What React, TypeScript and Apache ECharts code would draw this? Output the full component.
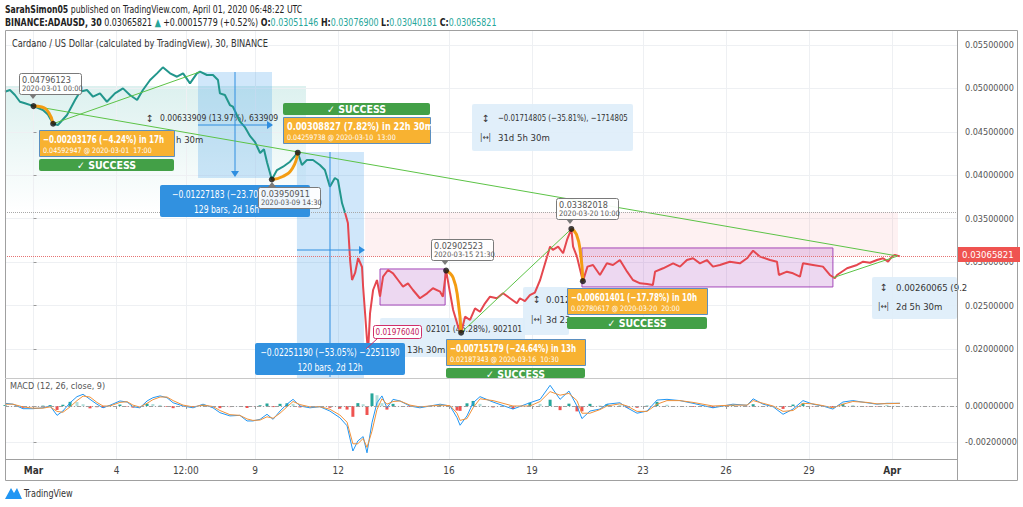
import React, { useEffect, useRef } from "react";
import * as echarts from "echarts";

const NARROW = "'Liberation Sans Narrow', 'DejaVu Sans Condensed', Roboto, sans-serif";

// x unit: days since 2020-03-01 00:00 UTC
const xTickDays = [0, 3, 5.5, 8, 11, 15, 18, 22, 25, 28, 31];
const xTickLabels = ["Mar", "4", "12:00", "9", "12", "16", "19", "23", "26", "29", "Apr"];
const priceTicks = [0.02, 0.025, 0.03, 0.035, 0.04, 0.045, 0.05, 0.055];
const macdTicks = [-0.002, 0];

const tealPrice: [number, number][] = [
  [-1.03, 0.04962], [-0.85, 0.04981], [-0.67, 0.04924], [-0.49, 0.04846], [-0.31, 0.04828], [0, 0.04796],
  [0.34, 0.04751], [0.52, 0.047], [0.708, 0.04593], [0.88, 0.04578], [1.21, 0.04693], [1.5, 0.04866],
  [1.68, 0.04962], [1.93, 0.04981], [2.15, 0.04904], [2.4, 0.04943], [2.65, 0.04846], [2.94, 0.04943],
  [3.23, 0.05], [3.48, 0.04924], [3.74, 0.04866], [3.95, 0.04981], [4.21, 0.05096], [4.46, 0.05173],
  [4.67, 0.05242], [4.93, 0.05173], [5.18, 0.05134], [5.4, 0.05173], [5.65, 0.05058], [5.9, 0.05173],
  [6.01, 0.05192], [6.26, 0.05154], [6.48, 0.05154], [6.66, 0.05096], [6.73, 0.04943], [6.91, 0.04924],
  [7.09, 0.04808], [7.2, 0.04789], [7.45, 0.0462], [7.64, 0.0455], [7.82, 0.0445], [8.0, 0.0438],
  [8.18, 0.04256], [8.32, 0.043], [8.43, 0.0415], [8.604, 0.03951], [8.79, 0.0406], [9.01, 0.04098],
  [9.26, 0.04156], [9.54, 0.0426], [9.69, 0.04118], [9.87, 0.04175], [10.09, 0.04175], [10.34, 0.04118],
  [10.52, 0.0406], [10.7, 0.03868], [10.88, 0.03968], [10.99, 0.03945], [11.14, 0.03677], [11.25, 0.03565],
];

const redPrice: [number, number][] = [
  [11.25, 0.03565], [11.35, 0.0345], [11.43, 0.03024], [11.5, 0.02794], [11.61, 0.02875], [11.72, 0.03047],
  [11.86, 0.02944], [11.9, 0.02714], [11.97, 0.02414], [12.04, 0.02104], [12.08, 0.01976], [12.15, 0.02414],
  [12.26, 0.02679], [12.4, 0.02794], [12.51, 0.02602], [12.62, 0.02832], [12.8, 0.02909], [12.98, 0.02871],
  [13.16, 0.02794], [13.34, 0.02717], [13.52, 0.02756], [13.7, 0.02679], [13.95, 0.02584], [14.21, 0.02641],
  [14.42, 0.02699], [14.68, 0.0266], [14.78, 0.02602], [14.896, 0.02903], [15.04, 0.02641], [15.15, 0.02449],
  [15.33, 0.02257], [15.4375, 0.02187], [15.58, 0.02372], [15.76, 0.02334], [15.94, 0.02468], [16.12, 0.02429],
  [16.3, 0.02526], [16.48, 0.02602], [16.73, 0.02584], [16.95, 0.02641], [17.2, 0.02584], [17.45, 0.02526],
  [17.56, 0.02584], [17.74, 0.0255], [17.92, 0.0262], [18.1, 0.0265], [18.29, 0.02794], [18.47, 0.02986],
  [18.65, 0.03178], [18.75, 0.0314], [18.94, 0.03178], [19.12, 0.03102], [19.26, 0.03255], [19.417, 0.03382],
  [19.48, 0.03178], [19.62, 0.03063], [19.833, 0.02781], [20.0, 0.02948], [20.2, 0.02967], [20.45, 0.02852],
  [20.7, 0.02986], [20.92, 0.02967], [21.17, 0.03024], [21.43, 0.0289], [21.64, 0.02794], [21.9, 0.02756],
  [22.15, 0.02748], [22.36, 0.02737], [22.44, 0.0289], [22.73, 0.02929], [23.09, 0.02986], [23.34, 0.02948],
  [23.59, 0.03024], [23.81, 0.03044], [24.06, 0.02986], [24.31, 0.03024], [24.53, 0.02948], [24.78, 0.02967],
  [25.14, 0.03005], [25.5, 0.02986], [25.76, 0.03044], [25.98, 0.03132], [26.23, 0.03063], [26.59, 0.03024],
  [26.84, 0.03005], [26.91, 0.02852], [27.2, 0.0289], [27.42, 0.02871], [27.67, 0.02832], [27.78, 0.02986],
  [28.14, 0.02967], [28.5, 0.02948], [28.75, 0.02852], [28.93, 0.02814], [29.01, 0.02852], [29.37, 0.02929],
  [29.73, 0.02967], [29.95, 0.03005], [30.2, 0.02993], [30.45, 0.03024], [30.67, 0.03044], [30.85, 0.03005],
  [30.99, 0.03063], [31.1, 0.03082], [31.28, 0.03066],
];

const trendLines: [number, number][][] = [
  [[0, 0.04796], [31.2, 0.0307]],
  [[0.708, 0.04593], [6.01, 0.0519]],
  [[15.4375, 0.02187], [19.417, 0.03382]],
  [[28.86, 0.0282], [31.2, 0.0307]],
];

const swingArcs: [number, number][][] = [
  [[0, 0.04796], [0.3, 0.04785], [0.55, 0.0472], [0.708, 0.04593]],
  [[8.604, 0.03951], [9.0, 0.03985], [9.35, 0.0408], [9.54, 0.0426]],
  [[14.896, 0.02903], [15.15, 0.0282], [15.33, 0.0255], [15.4375, 0.02187]],
  [[19.417, 0.03382], [19.6, 0.0332], [19.75, 0.031], [19.833, 0.02781]],
];

const pivotPoints: [number, number][] = [
  [0, 0.04796], [0.708, 0.04593], [8.604, 0.03951], [9.54, 0.0426],
  [14.896, 0.02903], [15.4375, 0.02187], [19.417, 0.03382], [19.833, 0.02781],
];

// [dayFrom, priceTop, dayTo, priceBottom]
const measureZones: number[][] = [
  [5.94, 0.05188, 8.61, 0.03968],
  [9.51, 0.04268, 11.93, 0.01666],
];
const rangeZones: number[][] = [
  [12.51, 0.02921, 14.86, 0.02506],
  [19.8, 0.03163, 28.86, 0.02714],
];
const riskZone: number[] = [11.97, 0.03577, 31.21, 0.03066];
const guideLevel = 0.03577;
const lastPrice = 0.03065821;

const macdDays = [
  -1.03, -0.74, -0.38, -0.02, 0.34, 0.6, 0.85, 1.06, 1.32, 1.57, 1.79, 2.04, 2.29, 2.51, 2.76, 3.12, 3.38,
  3.59, 3.84, 4.1, 4.31, 4.57, 4.82, 5.04, 5.4, 5.76, 6.12, 6.48, 6.73, 7.09, 7.45, 7.71, 7.92, 8.18, 8.43,
  8.65, 8.9, 9.15, 9.37, 9.62, 9.98, 10.34, 10.7, 11.06, 11.32, 11.53, 11.71, 11.9, 12.04, 12.22, 12.4,
  12.58, 12.76, 12.98, 13.23, 13.59, 13.95, 14.31, 14.68, 15.04, 15.29, 15.4, 15.65, 15.87,
  16.12, 16.59, 17.31, 17.92, 18.29, 18.65, 19.01, 19.33, 19.62, 19.8, 20.09, 20.45, 20.7, 21.17, 21.43,
  21.79, 22.15, 22.51, 22.87, 23.34, 23.81, 24.53, 25.25, 25.76, 25.98, 26.34, 26.7, 27.06, 27.42, 27.78,
  28.14, 28.5, 28.86, 29.22, 29.58, 30.09, 30.45, 30.81, 31.1, 31.28,
];
const macdLine = [
  0.00015, 0.0001, -0.00015, -0.00015, -0.0001, 0, -0.00052, -0.00028, 0.00018, 0.00052, 0.00065, 0.00037,
  0.0001, -0.0001, 0.00004, 0.00028, 0.00022, -0.00004, -0.0001, 0.00028, 0.00046, 0.00056, 0.00046, 0.00018,
  0, -0.0001, 0.0001, -0.0001, -0.00037, -0.00055, -0.00052, -0.00083, -0.00083, -0.00074, -0.00046, -0.00074,
  -0.00028, 0.0001, 0.00037, 0, -0.0001, -0.00004, -0.00028, -0.00065, -0.0011, -0.0025, -0.00194, -0.0017,
  -0.0026, -0.00093, 0.00018, 0.00056, -0.0001, 0.00037, 0.00028, 0, -0.0001, 0, 0.0001, 0, -0.00065,
  -0.00107, -0.00055, 0.00018,
  0.00052, 0.00022, -0.00017, 0.00018, 0.00037, 0.00115, 0.00037, 0.00083, 0, -0.0007, -0.00028, -0.00017,
  0.0001, 0.00018, -0.0001, -0.0004, -0.00028, 0.00033, 0.00037, 0.0003, 0.00015, -0.0001, 0.0001, 0.00004,
  0.0004, 0.0001, -0.00004, -0.00046, -0.00017, 0.0003, 0.0001, 0, -0.00017, 0.00022, 0.0003, 0.00018,
  0.0001, 0.00015, 0.00015, 0.00015,
];
const signalLine = [
  0.0001, 0.0001, -0.00005, -0.00012, -0.00012, -0.00005, -0.0003, -0.00035, -0.00005, 0.0003, 0.00055,
  0.0005, 0.0002, 0, 0, 0.0002, 0.00024, 0.00005, -0.00006, 0.00015, 0.00035, 0.0005, 0.0005, 0.0003,
  0.00005, -0.00005, 0.00005, -0.00003, -0.00025, -0.00048, -0.00052, -0.00072, -0.0008, -0.00078, -0.0006,
  -0.00068, -0.0004, -0.00005, 0.00025, 0.00008, -0.00005, -0.00004, -0.00018, -0.0005, -0.0009, -0.0021,
  -0.0021, -0.0018, -0.0023, -0.0014, -0.0002, 0.0004, 0.0001, 0.00025, 0.00028, 0.00005, -0.00005, 0,
  0.00005, 0.00002, -0.0004, -0.0008, -0.0007, -0.0001,
  0.0004, 0.0003, 0, 0, 0.00025, 0.0008, 0.0006, 0.0007, 0.0003, -0.0004, -0.0004, -0.0002, 0, 0.00012,
  0, -0.0003, -0.0003, 0.0001, 0.0003, 0.0003, 0.0002, 0, 0.00005, 0.00005, 0.0003, 0.00015, 0, -0.0003,
  -0.00025, 0.00015, 0.00012, 0.00002, -0.0001, 0.0001, 0.00025, 0.0002, 0.00012, 0.00013, 0.00014, 0.00015,
];
const histogram = [
  0.00005, 0, -0.0001, -0.00003, 0.00002, 0.00005, -0.00022, 0.00007, 0.00023, 0.00022, 0.0001, -0.00013,
  -0.0001, -0.0001, 0.00004, 0.00008, -0.00002, -0.00009, -0.00004, 0.00013, 0.00011, 0.00006, -0.00004,
  -0.00012, -0.00005, -0.00005, 0.00005, -0.00007, -0.00012, -0.00007, 0, -0.00011, -0.00003, 0.00004,
  0.00014, -0.00006, 0.00012, 0.00015, 0.00012, -0.00008, -0.00005, 0, -0.0001, -0.00015, -0.0002, -0.0006,
  0.00016, 0.0001, -0.0005, 0.0007, 0.0006, 0.00016, -0.0002, 0.00012, 0, -0.00005, -0.00005, 0, 0.00005,
  -0.00002, -0.00025, -0.00027, 0.00015, 0.00028,
  0.00012, -0.00008, -0.00017, 0.00018, 0.00012, 0.00035, -0.00023, 0.00013, -0.0003, -0.0003, 0.00012,
  0.00003, 0.0001, 0.00006, -0.0001, -0.0001, 0.00002, 0.00023, 0.00007, 0, -0.00005, -0.0001, 0.00005,
  -0.00001, 0.0001, -0.00005, -0.00004, -0.00016, 0.00008, 0.00015, -0.00002, -0.00002, -0.00007, 0.00012,
  0.00005, -0.00002, -0.00002, 0.00002, 0.00001, 0,
];

const X_MIN = -1.029;
const X_MAX = 33.34;

function txt(x: number, y: number, text: string, size: number, fill: string, opts: any = {}) {
  return {
    type: "text",
    x,
    y,
    scaleX: opts.sx ?? 1,
    z: opts.z ?? 30,
    silent: true,
    style: {
      text,
      fill,
      fontSize: size,
      fontFamily: NARROW,
      fontWeight: opts.bold ? "bold" : "normal",
      align: opts.align ?? "left",
      verticalAlign: "middle",
      rich: opts.rich,
    },
  };
}
function rect(x: number, y: number, w: number, h: number, fill: string, stroke: string | null, z = 20, r = 0) {
  return {
    type: "rect",
    z,
    silent: true,
    shape: { x, y, width: w, height: h, r },
    style: { fill, stroke: stroke ?? "none", lineWidth: 1 },
  };
}
function line(x1: number, y1: number, x2: number, y2: number, stroke: string, z = 20, w = 1) {
  return {
    type: "line",
    z,
    silent: true,
    shape: { x1, y1, x2, y2 },
    style: { stroke, lineWidth: w },
  };
}
function poly(points: number[][], fill: string, z = 20) {
  return { type: "polygon", z, silent: true, shape: { points }, style: { fill } };
}

function orangeBox(x: number, y: number, w: number, t1: string, t2: string) {
  const sx = t1.includes("−") ? 0.76 : 0.86;
  return [
    rect(x + 0.5, y + 0.5, w, 26, "#f8b231", "#5b8fc0", 22),
    txt(x + 4, y + 9, t1, 10.5, "#ffffff", { bold: true, z: 23, sx }),
    txt(x + 4, y + 20, t2, 7.5, "#ffffff", { z: 23, sx: 0.95 }),
  ];
}
function successBar(x: number, y: number, w: number, h = 12) {
  return [
    rect(x, y, w, h, "#43a047", null, 22, 2),
    txt(x + w / 2, y + 6, "✓ SUCCESS", 10.5, "#ffffff", { bold: true, align: "center", z: 23 }),
  ];
}
function tipBox(x: number, y: number, price: string, date: string, px: number, down: boolean) {
  const w = 62;
  const h = 21;
  const tri = down
    ? [[px - 4, y + h], [px, y + h + 5], [px + 4, y + h]]
    : [[px - 4, y], [px, y - 5], [px + 4, y]];
  return [
    rect(x + 0.5, y + 0.5, w, h, "rgba(255,255,255,0.92)", "#7a7a7a", 24, 2),
    poly(tri, "#7a7a7a", 24),
    txt(x + 3, y + 6.5, price, 9, "#555555", { z: 25 }),
    txt(x + 3, y + 15.5, date, 7.5, "#555555", { z: 25 }),
  ];
}
function paleBox(x: number, y: number, w: number, h: number) {
  return rect(x, y, w, h, "rgba(222,237,250,0.9)", null, 1, 2);
}

function buildGraphics() {
  const g: any[] = [];
  g.push({
    type: "rect",
    z: 0,
    silent: true,
    shape: { x: 6, y: 86, width: 300, height: 126 },
    style: {
      fill: new echarts.graphic.LinearGradient(0, 0, 0, 1, [
        { offset: 0, color: "rgba(38,166,154,0.16)" },
        { offset: 1, color: "rgba(38,166,154,0)" },
      ]),
    },
  });
  // frame
  g.push(rect(5.5, 30.5, 1012, 450, "none", "#a0a0a0", 40));
  g.push(line(957.5, 30, 957.5, 480, "#a0a0a0", 40));
  g.push(line(5, 378.5, 957, 378.5, "#c8c8c8", 40));
  g.push(line(5, 459.5, 957, 459.5, "#a0a0a0", 40));

  // header
  g.push(
    txt(5, 9, "{b|SarahSimon05} published on TradingView.com, April 01, 2020 06:48:22 UTC", 10.5, "#222", {
      sx: 0.82,
      rich: { b: { fontWeight: "bold", fontSize: 10.5, fontFamily: NARROW, fill: "#222" } },
    })
  );
  const gr = { fill: "#26a69a", fontSize: 11, fontFamily: NARROW };
  const bb = { fontWeight: "bold", fontSize: 11, fontFamily: NARROW, fill: "#222" };
  g.push(
    txt(
      5,
      22,
      "{b|BINANCE:ADAUSD, 30} 0.03065821 {g|▲} +0.00015779 (+0.52%) {b|O:}{g|0.03051146} {b|H:}{g|0.03076900} {b|L:}{g|0.03040181} {b|C:}{g|0.03065821}",
      11,
      "#222",
      { sx: 0.8, rich: { b: bb, g: gr } }
    )
  );
  g.push(txt(12, 43, "Cardano / US Dollar (calculated by TradingView), 30, BINANCE", 10, "#333", { sx: 0.92 }));
  g.push(txt(10, 386, "MACD (12, 26, close, 9)", 9, "#555"));

  // pale measurement notes
  g.push(txt(146, 118, "↕", 10, "#333", { z: 3 }));
  g.push(txt(160, 118, "0.00633909 (13.97%), 633909", 9.5, "#333", { z: 3, sx: 0.9 }));
  g.push(txt(176, 139, "h 30m", 9.5, "#333", { z: 3 }));

  g.push(paleBox(472, 104, 161, 47));
  g.push(txt(482, 118, "↕", 10, "#333", { z: 3 }));
  g.push(txt(498, 118, "−0.01714805 (−35.81%), −1714805", 9.5, "#333", { z: 3, sx: 0.82 }));
  g.push(txt(480, 137, "|↔|", 8, "#333", { z: 3 }));
  g.push(txt(498, 137, "31d 5h 30m", 9.5, "#333", { z: 3 }));

  g.push(paleBox(523, 287, 46, 48));
  g.push(txt(533, 299, "↕", 10, "#333", { z: 3 }));
  g.push(txt(546, 299, "0.012", 9.5, "#333", { z: 3 }));
  g.push(txt(531, 319, "|↔|", 8, "#333", { z: 3 }));
  g.push(txt(546, 319, "3d 23", 9.5, "#333", { z: 3 }));

  g.push(paleBox(380, 318, 145, 39));
  g.push(txt(426, 329, "02101 (45.28%), 902101", 9.5, "#333", { z: 3, sx: 0.9 }));
  g.push(txt(407, 349, "13h 30m", 9.5, "#333", { z: 3 }));

  g.push(paleBox(872, 277, 85, 42));
  g.push(txt(880, 287, "↕", 10, "#333", { z: 3 }));
  g.push(txt(896, 287, "0.00260065 (9.2", 9.5, "#333", { z: 3 }));
  g.push(txt(878, 306, "|↔|", 8, "#333", { z: 3 }));
  g.push(txt(896, 306, "2d 5h 30m", 9.5, "#333", { z: 3 }));

  // measure arrows
  const bl = "#2e8ee0";
  g.push(line(235, 72, 235, 176, bl, 6));
  g.push(poly([[231, 171], [235, 177], [239, 171]], bl, 6));
  g.push(line(198, 125, 272, 125, bl, 6));
  g.push(poly([[267, 121], [273, 125], [267, 129]], bl, 6));
  g.push(line(330, 152, 330, 377, bl, 6));
  g.push(line(297, 250, 364, 250, bl, 6));
  g.push(poly([[359, 246], [365, 250], [359, 254]], bl, 6));

  // blue measure labels
  g.push(rect(160, 185, 150, 32, "#3191e0", null, 21, 2));
  g.push(txt(172, 194, "−0.01227183 (−23.70%", 10, "#ffffff", { z: 22, sx: 0.85 }));
  g.push(txt(194, 209, "129 bars, 2d 16h", 10, "#ffffff", { z: 22, sx: 0.85 }));
  g.push(rect(255, 343, 150, 32, "#3191e0", null, 21, 2));
  g.push(txt(330, 352, "−0.02251190 (−53.05%) −2251190", 10, "#ffffff", { z: 22, sx: 0.85, align: "center" }));
  g.push(txt(330, 367, "120 bars, 2d 12h", 10, "#ffffff", { z: 22, sx: 0.85, align: "center" }));

  g.push(...orangeBox(39, 130, 135, "−0.00203176 (−4.24%) in 17h", "0.04592947 @ 2020-03-01  17:00"));
  g.push(...successBar(39, 159, 135));
  g.push(...successBar(283, 103, 147));
  g.push(...orangeBox(283, 117, 147, "0.00308827 (7.82%) in 22h 30m", "0.04259738 @ 2020-03-10  13:00"));
  g.push(...orangeBox(446, 339, 139, "−0.00715179 (−24.64%) in 13h", "0.02187343 @ 2020-03-16  10:30"));
  g.push(...successBar(446, 368, 139, 10));
  g.push(...orangeBox(567, 288, 140, "−0.00601401 (−17.78%) in 10h", "0.02780617 @ 2020-03-20  20:00"));
  g.push(...successBar(567, 317, 140));

  g.push(...tipBox(19, 73, "0.04796123", "2020-03-01 00:00", 33, true));
  g.push(...tipBox(258, 187, "0.03950911", "2020-03-09 14:30", 272, false));
  g.push(...tipBox(431, 239, "0.02902523", "2020-03-15 21:30", 445, true));
  g.push(...tipBox(556, 198, "0.03382018", "2020-03-20 10:00", 570, true));

  // low label
  g.push(line(366, 349, 378, 338, "#d0306a", 24));
  g.push(rect(373.5, 325.5, 48, 13, "#ffffff", "#d0306a", 24, 2));
  g.push(txt(397.5, 332, "0.01976040", 8.5, "#c2185b", { align: "center", z: 25, sx: 0.95 }));

  // last price tag
  g.push(rect(958, 247, 62, 15, "#ef5350", null, 45));
  g.push(txt(962, 254.5, "0.03065821", 9.5, "#ffffff", { z: 46 }));

  // TradingView logo
  g.push(poly([[5, 499], [11, 488], [14, 493], [17, 488], [22, 499]], "#2196f3", 10));
  g.push(txt(24, 493, "TradingView", 10, "#333", { sx: 0.9 }));
  return g;
}

function labelFor(v: number) {
  const i = xTickDays.findIndex((d) => Math.abs(d - v) < 1e-6);
  if (i < 0) return "";
  const s = xTickLabels[i];
  return s === "Mar" || s === "Apr" ? `{m|${s}}` : s;
}

export default function App() {
  const ref = useRef<HTMLDivElement>(null);
  useEffect(() => {
    if (!ref.current) return;
    const chart = echarts.init(ref.current, undefined, { renderer: "svg" });
    const grid = "#eef0f3";
    const zoneData = (z: number[]) => [{ xAxis: z[0], yAxis: z[1] }, { xAxis: z[2], yAxis: z[3] }];
    const option: any = {
      animation: false,
      backgroundColor: "#ffffff",
      grid: [
        { left: 5, top: 30, width: 952, height: 348 },
        { left: 5, top: 379, width: 952, height: 80 },
      ],
      xAxis: [
        {
          type: "value", gridIndex: 0, min: X_MIN, max: X_MAX,
          axisLine: { show: false },
          axisTick: { show: false, customValues: xTickDays },
          axisLabel: { show: false },
          splitLine: { show: true, lineStyle: { color: grid } },
        },
        {
          type: "value", gridIndex: 1, min: X_MIN, max: X_MAX,
          axisLine: { show: false },
          axisTick: { show: true, customValues: xTickDays, length: 3, lineStyle: { color: "#999" } },
          axisLabel: {
            customValues: xTickDays,
            formatter: labelFor,
            color: "#444",
            fontSize: 10,
            fontFamily: NARROW,
            margin: 6,
            rich: { m: { fontWeight: "bold", fontSize: 10, fontFamily: NARROW, color: "#333" } },
          },
          splitLine: { show: true, lineStyle: { color: grid } },
        },
      ],
      yAxis: [
        {
          type: "value", gridIndex: 0, position: "right", min: 0.01666, max: 0.05672,
          axisLine: { show: false },
          axisTick: { show: true, customValues: priceTicks, length: 3, lineStyle: { color: "#999" } },
          axisLabel: {
            customValues: priceTicks,
            formatter: (v: number) => v.toFixed(8),
            color: "#555", fontSize: 9, fontFamily: NARROW, margin: 8,
          },
          splitLine: { show: true, lineStyle: { color: grid } },
        },
        {
          type: "value", gridIndex: 1, position: "right", min: -0.002944, max: 0.0015,
          axisLine: { show: false },
          axisTick: { show: true, customValues: macdTicks, length: 3, lineStyle: { color: "#999" } },
          axisLabel: {
            customValues: macdTicks,
            formatter: (v: number) => v.toFixed(8),
            color: "#555", fontSize: 9, fontFamily: NARROW, margin: 8,
          },
          splitLine: { show: true, lineStyle: { color: grid } },
        },
      ],
      series: [
        {
          type: "line", xAxisIndex: 0, yAxisIndex: 0, data: [[X_MIN, riskZone[1]]], showSymbol: false,
          lineStyle: { width: 0 }, silent: true, z: 1,
          markArea: {
            silent: true,
            data: [
              [{ xAxis: riskZone[0], yAxis: riskZone[1], itemStyle: { color: "rgba(242,54,69,0.07)" } }, { xAxis: riskZone[2], yAxis: riskZone[3] }],
              ...measureZones.map((z) => {
                const d: any = zoneData(z);
                d[0].itemStyle = { color: "rgba(41,145,230,0.22)" };
                return d;
              }),
              ...rangeZones.map((z) => {
                const d: any = zoneData(z);
                d[0].itemStyle = { color: "rgba(156,39,176,0.18)", borderColor: "#a347b8", borderWidth: 1 };
                return d;
              }),
            ],
          },
          markLine: {
            silent: true, symbol: "none", label: { show: false }, precision: 10,
            data: [
              { yAxis: guideLevel, lineStyle: { color: "#a8a8a8", type: "dotted", width: 1 } },
              { yAxis: lastPrice, lineStyle: { color: "#e57373", type: "dotted", width: 1 } },
            ],
          },
        },
        {
          type: "line", xAxisIndex: 0, yAxisIndex: 0, data: tealPrice, showSymbol: false, z: 3,
          lineStyle: { color: "#22968c", width: 2 },
        },
        {
          type: "line", xAxisIndex: 0, yAxisIndex: 0, data: redPrice, showSymbol: false, z: 3,
          lineStyle: { color: "#e5474f", width: 2 },
        },
        ...trendLines.map((d) => ({
          type: "line", xAxisIndex: 0, yAxisIndex: 0, data: d, showSymbol: false, z: 4,
          lineStyle: { color: "#5cc346", width: 1 },
        })),
        ...swingArcs.map((d) => ({
          type: "line", xAxisIndex: 0, yAxisIndex: 0, data: d, showSymbol: false, smooth: 0.5, z: 5,
          lineStyle: { color: "#f39c12", width: 3 },
        })),
        {
          type: "scatter", xAxisIndex: 0, yAxisIndex: 0, data: pivotPoints, symbolSize: 6, z: 6,
          itemStyle: { color: "#111" },
        },
        {
          type: "bar", xAxisIndex: 1, yAxisIndex: 1, barWidth: 3,
          data: macdDays.map((d, i) => [d, histogram[i]]),
          itemStyle: {
            color: (p: any) => {
              const i = p.dataIndex;
              const v = histogram[i];
              const prev = i > 0 ? histogram[i - 1] : 0;
              if (v >= 0) return v >= prev ? "#26a69a" : "#b2dfdb";
              return v <= prev ? "#ef5350" : "#ffcdd2";
            },
          },
        },
        {
          type: "line", xAxisIndex: 1, yAxisIndex: 1, showSymbol: false, z: 4,
          data: macdDays.map((d, i) => [d, macdLine[i]]),
          lineStyle: { color: "#2196f3", width: 1 },
          markLine: {
            silent: true, symbol: "none", label: { show: false }, precision: 10,
            data: [{ yAxis: 0, lineStyle: { color: "#9e9e9e", type: [4, 2, 1, 2], width: 1 } }],
          },
        },
        {
          type: "line", xAxisIndex: 1, yAxisIndex: 1, showSymbol: false, z: 4,
          data: macdDays.map((d, i) => [d, signalLine[i]]),
          lineStyle: { color: "#f0913a", width: 1 },
        },
      ],
      graphic: buildGraphics(),
    };
    chart.setOption(option);
    return () => chart.dispose();
  }, []);
  return <div ref={ref} style={{ width: 1023, height: 507, position: "absolute", left: 0, top: 0 }} />;
}
